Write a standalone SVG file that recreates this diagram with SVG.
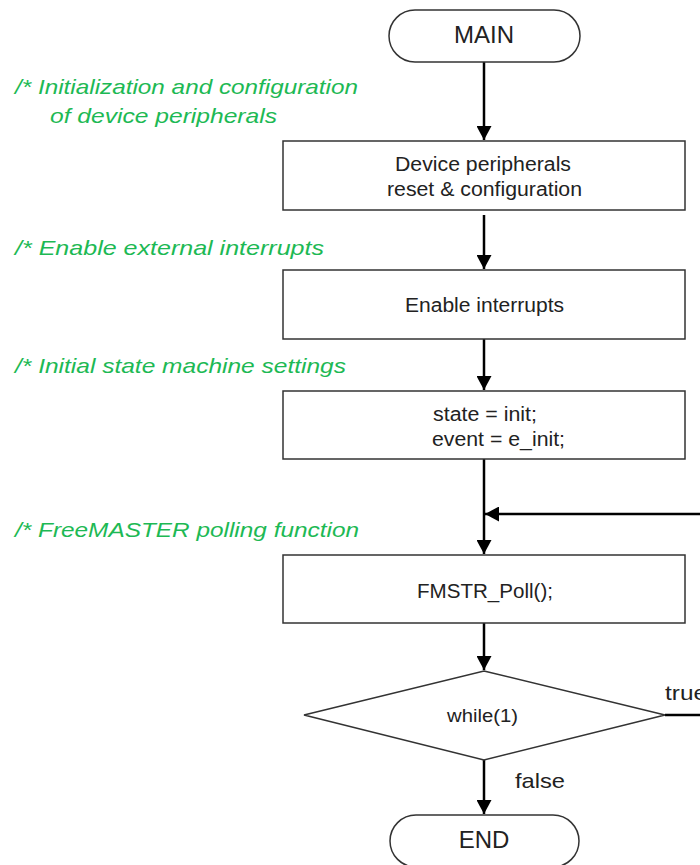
<svg xmlns="http://www.w3.org/2000/svg" width="700" height="865" viewBox="0 0 700 865">
<style>
.node{fill:#fff;stroke:#333;stroke-width:1.5}
.t{font-family:"Liberation Sans",Arial,sans-serif;fill:#222;text-anchor:middle}
.l{font-family:"Liberation Sans",Arial,sans-serif;fill:#222;text-anchor:start}
.c{font-family:"Liberation Sans",Arial,sans-serif;font-style:italic;fill:#1db954;font-size:21px}
.edge{stroke:#000;stroke-width:2.5;fill:none}
</style>
<defs>
<marker id="ah" viewBox="0 0 14 15" refX="14" refY="7.5" markerWidth="14" markerHeight="15" markerUnits="userSpaceOnUse" orient="auto">
<path d="M0,0 L14,7.5 L0,15 Z" fill="#000"/>
</marker>
</defs>
<rect width="700" height="865" fill="#fff"/>
<g id="comments">
<text class="c" x="15" y="94" textLength="343" lengthAdjust="spacingAndGlyphs">/* Initialization and configuration</text>
<text class="c" x="50" y="123" textLength="227" lengthAdjust="spacingAndGlyphs">of device peripherals</text>
<text class="c" x="15" y="255" textLength="309" lengthAdjust="spacingAndGlyphs">/* Enable external  interrupts</text>
<text class="c" x="15" y="373" textLength="331" lengthAdjust="spacingAndGlyphs">/* Initial state machine settings</text>
<text class="c" x="15" y="537" textLength="344" lengthAdjust="spacingAndGlyphs">/* FreeMASTER polling function</text>
</g>
<g id="connectors">
<line class="edge" x1="484" y1="62" x2="484" y2="140" marker-end="url(#ah)"/>
<line class="edge" x1="484" y1="215" x2="484" y2="269" marker-end="url(#ah)"/>
<line class="edge" x1="484" y1="339" x2="484" y2="390" marker-end="url(#ah)"/>
<line class="edge" x1="484" y1="459" x2="484" y2="554" marker-end="url(#ah)"/>
<line class="edge" x1="700" y1="514" x2="485" y2="514" marker-end="url(#ah)"/>
<line class="edge" x1="484" y1="623" x2="484" y2="670" marker-end="url(#ah)"/>
<line class="edge" x1="665" y1="715" x2="700" y2="715"/>
<line class="edge" x1="484" y1="760" x2="484" y2="814" marker-end="url(#ah)"/>
<text class="l" x="665" y="700" font-size="21" textLength="42" lengthAdjust="spacingAndGlyphs">true</text>
<text class="l" x="515" y="788" font-size="21" textLength="50" lengthAdjust="spacingAndGlyphs">false</text>
</g>
<g id="main">
<rect class="node" x="389" y="10" width="191" height="52" rx="26" ry="26"/>
<text class="t" x="484" y="43" font-size="24">MAIN</text>
</g>
<g id="config">
<rect class="node" x="283" y="141" width="402" height="69"/>
<text class="l" x="395" y="171" font-size="20" textLength="176" lengthAdjust="spacingAndGlyphs">Device peripherals</text>
<text class="l" x="387" y="196" font-size="20" textLength="195" lengthAdjust="spacingAndGlyphs">reset &amp; configuration</text>
</g>
<g id="enable">
<rect class="node" x="283" y="270" width="402" height="69"/>
<text class="l" x="405" y="312" font-size="20" textLength="159" lengthAdjust="spacingAndGlyphs">Enable  interrupts</text>
</g>
<g id="state">
<rect class="node" x="283" y="391" width="402" height="68"/>
<text class="l" x="433" y="421" font-size="20" textLength="104" lengthAdjust="spacingAndGlyphs">state  = init;</text>
<text class="l" x="432" y="446" font-size="20" textLength="133" lengthAdjust="spacingAndGlyphs">event  = e_init;</text>
</g>
<g id="poll">
<rect class="node" x="283" y="555" width="402" height="68"/>
<text class="l" x="417" y="598" font-size="20" textLength="136" lengthAdjust="spacingAndGlyphs">FMSTR_Poll();</text>
</g>
<g id="while">
<polygon class="node" points="484,671 665,715 484,760 304,715"/>
<text class="l" x="447" y="722" font-size="18" textLength="71" lengthAdjust="spacingAndGlyphs">while(1)</text>
</g>
<g id="end">
<rect class="node" x="390" y="815" width="189" height="52" rx="26" ry="26"/>
<text class="t" x="484" y="848" font-size="24">END</text>
</g>
</svg>
